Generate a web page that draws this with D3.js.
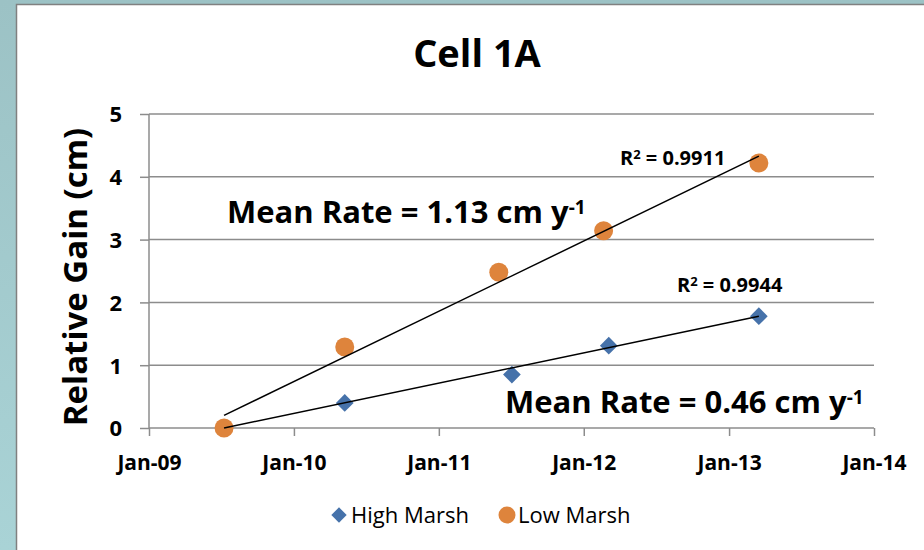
<!DOCTYPE html>
<html>
<head>
<meta charset="utf-8">
<style>
  body { margin: 0; background: #a3cbce; }
  svg { display: block; font-family: "Open Sans", "Noto Sans", sans-serif; }
  .grid line { stroke: #8c8c8c; stroke-width: 1.5px; }
  .axis path, .axis line { stroke: #8c8c8c; stroke-width: 1.5px; }
  .axis text { font-weight: bold; fill: #000; font-family: "Open Sans", sans-serif; }
  .trend { fill: none; stroke: #000; stroke-width: 1.5px; }
</style>
</head>
<body>
<script src="https://d3js.org/d3.v7.min.js"></script>
<script>
// data
var highDates = ["2009-07-09", "2010-05-09", "2011-07-04", "2012-03-04", "2013-03-17"];
var highGain  = [0, 0.40, 0.85, 1.31, 1.78];
var lowDates  = ["2009-07-09", "2010-05-09", "2011-06-01", "2012-02-20", "2013-03-17"];
var lowGain   = [0, 1.29, 2.48, 3.14, 4.22];
// linear trend lines, value at first and last sample date
var highTrend = [0.00, 1.78];
var lowTrend  = [0.20, 4.33];
var xTicks = ["2009-01-01", "2010-01-01", "2011-01-01", "2012-01-01", "2013-01-01", "2014-01-01"];
var yTicks = [0, 1, 2, 3, 4, 5];
var seriesNames = ["High Marsh", "Low Marsh"];
var r2Labels = ["0.9944", "0.9911"];
var rateLabels = ["0.46", "1.13"];

var parse = d3.timeParse("%Y-%m-%d");
var high = highDates.map(function(d, i) { return {date: parse(d), v: highGain[i]}; });
var low = lowDates.map(function(d, i) { return {date: parse(d), v: lowGain[i]}; });

var W = 924, H = 550;
var margin = {top: 114, left: 149, right: 50, bottom: 122};
var width = W - margin.left - margin.right,
    height = H - margin.top - margin.bottom;

var x = d3.scaleTime()
    .domain([parse(xTicks[0]), parse(xTicks[xTicks.length - 1])])
    .range([0, width]);
var y = d3.scaleLinear().domain([0, 5]).range([height, 0]);

var svg = d3.select("body").append("svg")
    .attr("width", W)
    .attr("height", H);

// slide background with white chart box
var bg = svg.append("defs").append("linearGradient")
    .attr("id", "bg").attr("x1", 0).attr("y1", 0).attr("x2", 0).attr("y2", 1);
bg.append("stop").attr("offset", "0%").attr("stop-color", "#9cc2c5");
bg.append("stop").attr("offset", "100%").attr("stop-color", "#a9d3d6");
svg.append("rect").attr("width", W).attr("height", H).attr("fill", "url(#bg)");
svg.append("rect")
    .attr("x", 16.5).attr("y", 4.5)
    .attr("width", W).attr("height", H)
    .attr("fill", "#fff")
    .attr("stroke", "#808080")
    .attr("stroke-width", 1.5);

var g = svg.append("g")
    .attr("transform", "translate(" + margin.left + "," + margin.top + ")");

// gridlines
g.append("g").attr("class", "grid")
  .selectAll("line")
  .data(yTicks.slice(1))
  .enter().append("line")
    .attr("x1", 0).attr("x2", width)
    .attr("y1", function(d) { return y(d); })
    .attr("y2", function(d) { return y(d); });

// axes
var yAxis = g.append("g").attr("class", "axis")
    .call(d3.axisLeft(y).tickValues(yTicks).tickSize(9).tickPadding(18).tickFormat(d3.format("d")));
yAxis.selectAll("text").style("font-size", "22px").attr("dy", "0.36em");

var xAxis = g.append("g").attr("class", "axis")
    .attr("transform", "translate(0," + height + ")")
    .call(d3.axisBottom(x).tickValues(xTicks.map(parse)).tickSize(8)
      .tickFormat(d3.timeFormat("Jan-%y")));
xAxis.selectAll("text").style("font-size", "21px").attr("y", 42).attr("dy", 0);
g.selectAll(".axis .domain").attr("d", function() {
  return d3.select(this.parentNode).attr("transform") ? "M0,0H" + width : "M0,0V" + height;
});

// trend lines
function trend(pts, vals) {
  var ends = d3.extent(pts, function(p) { return p.date; });
  return ends.map(function(d, i) { return {date: d, v: vals[i]}; });
}
var line = d3.line()
    .x(function(d) { return x(d.date); })
    .y(function(d) { return y(d.v); });

// high marsh diamonds
var diamond = d3.symbol().type(d3.symbolDiamond2).size(200);
g.selectAll(".high").data(high).enter().append("path")
    .attr("d", diamond)
    .attr("transform", function(d) { return "translate(" + x(d.date) + "," + y(d.v) + ")"; })
    .attr("fill", "#4672aa");

// low marsh circles
g.selectAll(".low").data(low).enter().append("circle")
    .attr("cx", function(d) { return x(d.date); })
    .attr("cy", function(d) { return y(d.v); })
    .attr("r", 9.5)
    .attr("fill", "#de843c");

g.append("path").datum(trend(low, lowTrend)).attr("class", "trend").attr("d", line);
g.append("path").datum(trend(high, highTrend)).attr("class", "trend").attr("d", line);

// title
svg.append("text")
    .attr("x", 477).attr("y", 67)
    .attr("text-anchor", "middle")
    .style("font-size", "38px").style("font-weight", "bold")
    .text("Cell 1A");

// y axis title
svg.append("text")
    .attr("transform", "translate(87,277) rotate(-90)")
    .attr("text-anchor", "middle")
    .style("font-size", "33px").style("font-weight", "bold")
    .text("Relative Gain (cm)");

// annotations
function rate(xp, yp, val) {
  var t = svg.append("text").attr("x", xp).attr("y", yp)
      .style("font-size", "31px").style("font-weight", "bold");
  t.append("tspan").text("Mean Rate = " + val + " cm y");
  t.append("tspan").attr("dy", -9).style("font-size", "19px").text("-1");
}
rate(227, 223, rateLabels[1]);
rate(505, 413, rateLabels[0]);

function r2(xp, yp, val) {
  var t = svg.append("text").attr("x", xp).attr("y", yp)
      .style("font-size", "20px").style("font-weight", "bold");
  t.append("tspan").text("R");
  t.append("tspan").attr("dy", -6).style("font-size", "13px").text("2");
  t.append("tspan").attr("dy", 6).text(" = " + val);
}
r2(620, 165, r2Labels[1]);
r2(677, 292, r2Labels[0]);

// legend
var leg = svg.append("g").attr("transform", "translate(339,515)");
leg.append("path").attr("d", d3.symbol().type(d3.symbolDiamond2).size(150)).attr("fill", "#4672aa");
leg.append("text").attr("x", 12).attr("y", 8).style("font-size", "22px").text(seriesNames[0]);
leg.append("circle").attr("cx", 168).attr("r", 8.5).attr("fill", "#de843c");
leg.append("text").attr("x", 179).attr("y", 8).style("font-size", "22px").text(seriesNames[1]);
</script>
</body>
</html>
